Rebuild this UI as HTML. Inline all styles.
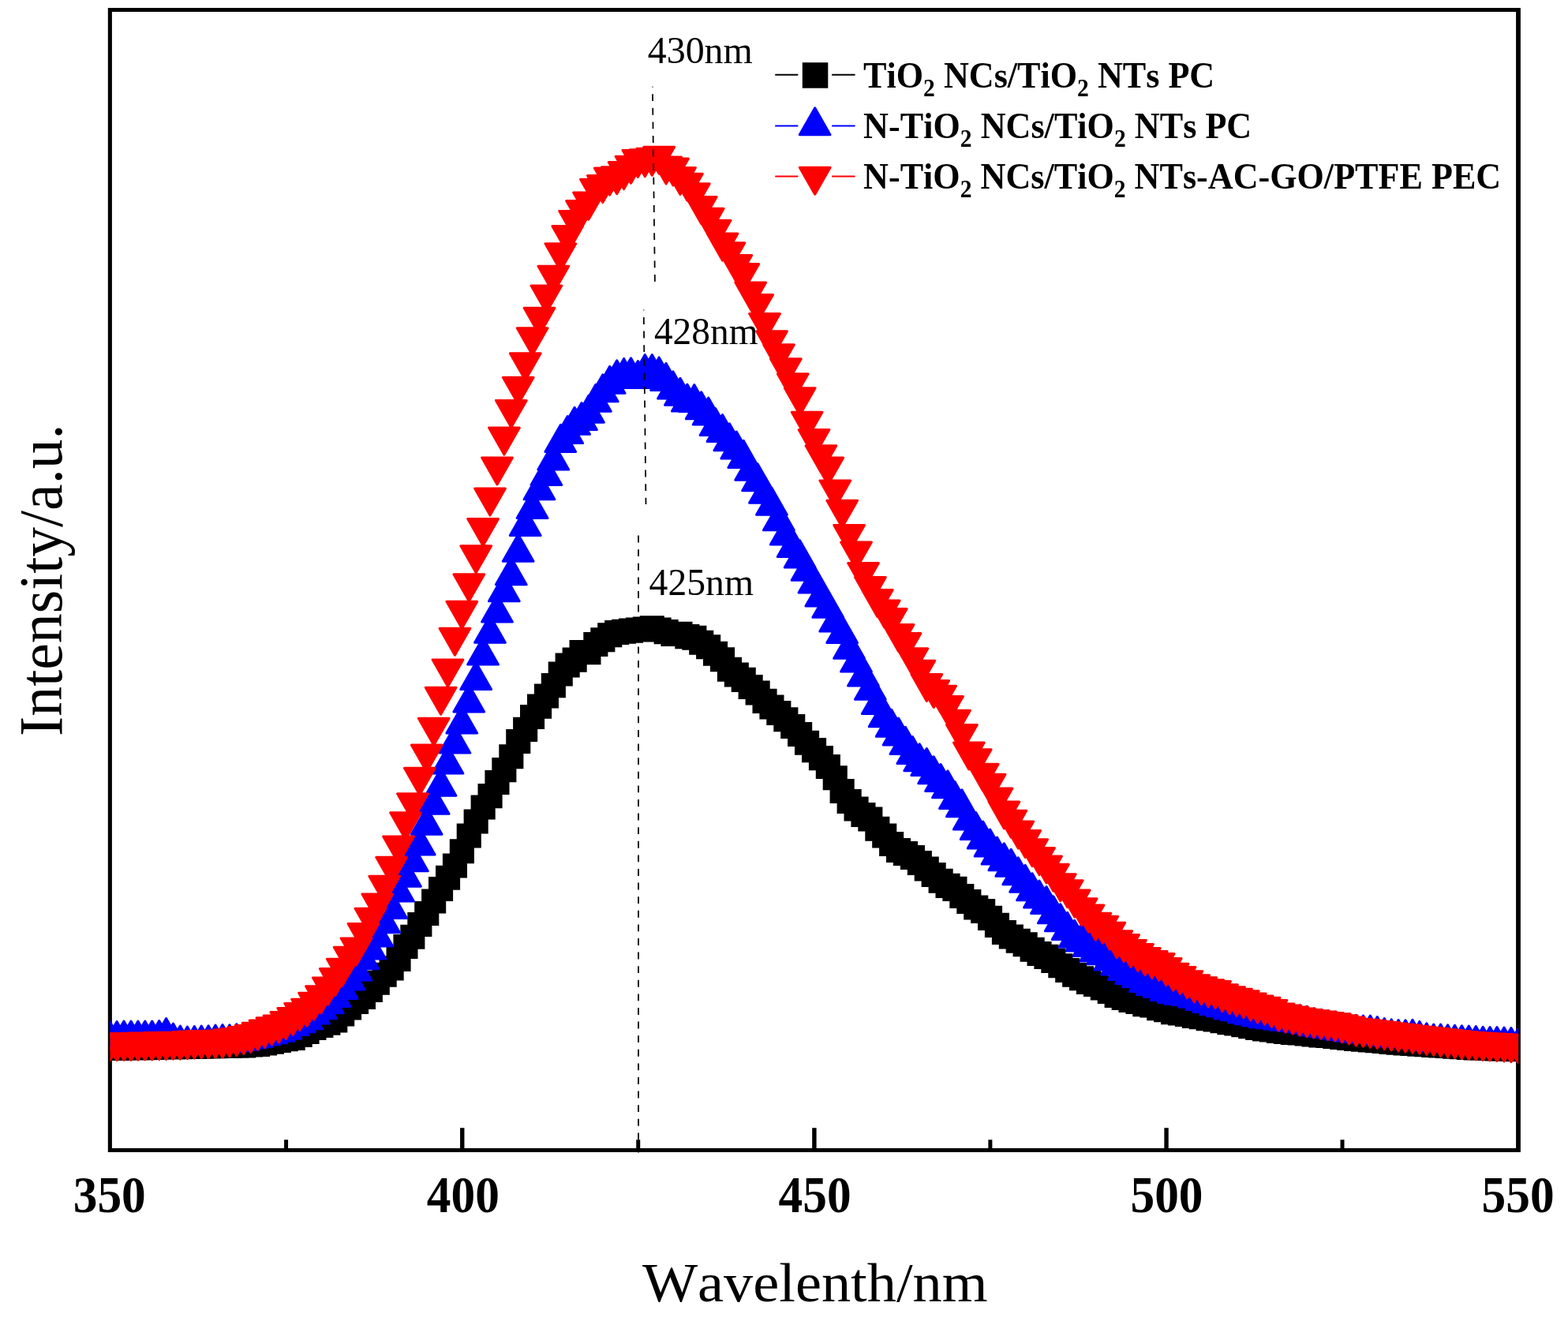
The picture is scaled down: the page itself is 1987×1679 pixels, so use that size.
<!DOCTYPE html>
<html lang="en">
<head>
<meta charset="utf-8">
<title>PL spectra</title>
<style>
html,body{margin:0;padding:0;background:#fff;}
body{width:1987px;height:1679px;overflow:hidden;}
svg{display:block;}
text{font-family:"Liberation Serif","DejaVu Serif",serif;fill:#000;font-kerning:none;white-space:pre;}
.b{font-weight:bold;}
</style>
</head>
<body>
<svg width="1987" height="1679" viewBox="0 0 1987 1679">
<rect width="1987" height="1679" fill="#fff"/>
<defs><clipPath id="pc"><rect x="139.5" y="12.5" width="1784.6" height="1445"/></clipPath></defs>
<path fill="#000" fill-rule="evenodd" d="M136.8 10H1926.9V1459.9H136.8ZM141.9 15.1V1455H1921.1V15.1Z"/>
<g clip-path="url(#pc)">
<path fill="#000" d="M123.6 1313h31.1v31.1h-31.1zM132.6 1312.9h31.1v31.1h-31.1zM141.5 1312.7h31.1v31.1h-31.1zM150.4 1312.5h31.1v31.1h-31.1zM159.3 1312.3h31.1v31.1h-31.1zM168.3 1312.1h31.1v31.1h-31.1zM177.2 1311.9h31.1v31.1h-31.1zM186.1 1311.7h31.1v31.1h-31.1zM195 1311.5h31.1v31.1h-31.1zM204 1311.3h31.1v31.1h-31.1zM212.9 1311.2h31.1v31.1h-31.1zM221.8 1311h31.1v31.1h-31.1zM230.7 1310.8h31.1v31.1h-31.1zM239.6 1310.6h31.1v31.1h-31.1zM248.6 1310.4h31.1v31.1h-31.1zM257.5 1310.2h31.1v31.1h-31.1zM266.4 1310h31.1v31.1h-31.1zM275.3 1309.8h31.1v31.1h-31.1zM284.3 1309.6h31.1v31.1h-31.1zM293.2 1309.5h31.1v31.1h-31.1zM302.1 1308.5h31.1v31.1h-31.1zM311 1308h31.1v31.1h-31.1zM320 1306.4h31.1v31.1h-31.1zM328.9 1304.7h31.1v31.1h-31.1zM337.8 1303h31.1v31.1h-31.1zM346.7 1301.2h31.1v31.1h-31.1zM355.6 1299.8h31.1v31.1h-31.1zM364.6 1295.9h31.1v31.1h-31.1zM373.5 1291.8h31.1v31.1h-31.1zM382.4 1286.9h31.1v31.1h-31.1zM391.3 1284h31.1v31.1h-31.1zM400.3 1280.7h31.1v31.1h-31.1zM409.2 1277.4h31.1v31.1h-31.1zM418.1 1269.4h31.1v31.1h-31.1zM427 1261.4h31.1v31.1h-31.1zM436 1254h31.1v31.1h-31.1zM444.9 1247.8h31.1v31.1h-31.1zM453.8 1238.8h31.1v31.1h-31.1zM462.7 1229.7h31.1v31.1h-31.1zM471.6 1219.7h31.1v31.1h-31.1zM480.6 1211.5h31.1v31.1h-31.1zM489.5 1200h31.1v31.1h-31.1zM498.4 1184h31.1v31.1h-31.1zM507.3 1171.7h31.1v31.1h-31.1zM516.3 1155.9h31.1v31.1h-31.1zM525.2 1142h31.1v31.1h-31.1zM534.1 1126.4h31.1v31.1h-31.1zM543 1111h31.1v31.1h-31.1zM552 1096.7h31.1v31.1h-31.1zM560.9 1081.5h31.1v31.1h-31.1zM569.8 1063.2h31.1v31.1h-31.1zM578.7 1043.4h31.1v31.1h-31.1zM587.6 1025.5h31.1v31.1h-31.1zM596.6 1007.4h31.1v31.1h-31.1zM605.5 993.1h31.1v31.1h-31.1zM614.4 975.9h31.1v31.1h-31.1zM623.3 960.1h31.1v31.1h-31.1zM632.3 943.2h31.1v31.1h-31.1zM641.2 923.9h31.1v31.1h-31.1zM650.1 908.8h31.1v31.1h-31.1zM659 892.9h31.1v31.1h-31.1zM668 879.6h31.1v31.1h-31.1zM676.9 866.5h31.1v31.1h-31.1zM685.8 853.1h31.1v31.1h-31.1zM694.7 838.4h31.1v31.1h-31.1zM703.6 827.4h31.1v31.1h-31.1zM712.6 820.6h31.1v31.1h-31.1zM721.5 811.1h31.1v31.1h-31.1zM730.4 811.1h31.1v31.1h-31.1zM739.3 801h31.1v31.1h-31.1zM748.3 795.2h31.1v31.1h-31.1zM757.2 789.2h31.1v31.1h-31.1zM766.1 785.9h31.1v31.1h-31.1zM775 784.7h31.1v31.1h-31.1zM784 783.6h31.1v31.1h-31.1zM792.9 782.4h31.1v31.1h-31.1zM801.8 781.6h31.1v31.1h-31.1zM810.7 780.2h31.1v31.1h-31.1zM819.6 782.5h31.1v31.1h-31.1zM828.6 785.1h31.1v31.1h-31.1zM837.5 787.9h31.1v31.1h-31.1zM846.4 787.8h31.1v31.1h-31.1zM855.3 791.1h31.1v31.1h-31.1zM864.3 792.7h31.1v31.1h-31.1zM873.2 798.7h31.1v31.1h-31.1zM882.1 804.2h31.1v31.1h-31.1zM891 812.7h31.1v31.1h-31.1zM900 820.2h31.1v31.1h-31.1zM908.9 832.7h31.1v31.1h-31.1zM917.8 839.5h31.1v31.1h-31.1zM926.7 845.8h31.1v31.1h-31.1zM935.6 855h31.1v31.1h-31.1zM944.6 862.5h31.1v31.1h-31.1zM953.5 872.8h31.1v31.1h-31.1zM962.4 880.5h31.1v31.1h-31.1zM971.3 888h31.1v31.1h-31.1zM980.3 896.2h31.1v31.1h-31.1zM989.2 904.9h31.1v31.1h-31.1zM998.1 914.9h31.1v31.1h-31.1zM1007 925.7h31.1v31.1h-31.1zM1016 935.1h31.1v31.1h-31.1zM1024.9 945.1h31.1v31.1h-31.1zM1033.8 955.9h31.1v31.1h-31.1zM1042.7 970.2h31.1v31.1h-31.1zM1051.6 986.9h31.1v31.1h-31.1zM1060.6 1000h31.1v31.1h-31.1zM1069.5 1009.5h31.1v31.1h-31.1zM1078.4 1017h31.1v31.1h-31.1zM1087.3 1022.5h31.1v31.1h-31.1zM1096.3 1034.7h31.1v31.1h-31.1zM1105.2 1043.5h31.1v31.1h-31.1zM1114.1 1054h31.1v31.1h-31.1zM1123 1062h31.1v31.1h-31.1zM1131.9 1065.9h31.1v31.1h-31.1zM1140.9 1070.9h31.1v31.1h-31.1zM1149.8 1078h31.1v31.1h-31.1zM1158.7 1085.5h31.1v31.1h-31.1zM1167.6 1093h31.1v31.1h-31.1zM1176.6 1100.7h31.1v31.1h-31.1zM1185.5 1106.8h31.1v31.1h-31.1zM1194.4 1110.8h31.1v31.1h-31.1zM1203.3 1120h31.1v31.1h-31.1zM1212.3 1127h31.1v31.1h-31.1zM1221.2 1134.4h31.1v31.1h-31.1zM1230.1 1139h31.1v31.1h-31.1zM1239 1147.8h31.1v31.1h-31.1zM1247.9 1156.8h31.1v31.1h-31.1zM1256.9 1166h31.1v31.1h-31.1zM1265.8 1171.5h31.1v31.1h-31.1zM1274.7 1176.7h31.1v31.1h-31.1zM1283.6 1181.2h31.1v31.1h-31.1zM1292.6 1187.7h31.1v31.1h-31.1zM1301.5 1193h31.1v31.1h-31.1zM1310.4 1196.8h31.1v31.1h-31.1zM1319.3 1202h31.1v31.1h-31.1zM1328.3 1208.2h31.1v31.1h-31.1zM1337.2 1214h31.1v31.1h-31.1zM1346.1 1219.7h31.1v31.1h-31.1zM1355 1224.2h31.1v31.1h-31.1zM1363.9 1229h31.1v31.1h-31.1zM1372.9 1231.8h31.1v31.1h-31.1zM1381.8 1236.4h31.1v31.1h-31.1zM1390.7 1240.9h31.1v31.1h-31.1zM1399.6 1246h31.1v31.1h-31.1zM1408.6 1249h31.1v31.1h-31.1zM1417.5 1252h31.1v31.1h-31.1zM1426.4 1254h31.1v31.1h-31.1zM1435.3 1257.2h31.1v31.1h-31.1zM1444.3 1258.5h31.1v31.1h-31.1zM1453.2 1262.2h31.1v31.1h-31.1zM1462.1 1264.2h31.1v31.1h-31.1zM1471 1267.2h31.1v31.1h-31.1zM1479.9 1268.5h31.1v31.1h-31.1zM1488.9 1269.8h31.1v31.1h-31.1zM1497.8 1271.9h31.1v31.1h-31.1zM1506.7 1273.2h31.1v31.1h-31.1zM1515.6 1275.2h31.1v31.1h-31.1zM1524.6 1276.5h31.1v31.1h-31.1zM1533.5 1278.2h31.1v31.1h-31.1zM1542.4 1280.2h31.1v31.1h-31.1zM1551.3 1281.5h31.1v31.1h-31.1zM1560.3 1283.2h31.1v31.1h-31.1zM1569.2 1285.2h31.1v31.1h-31.1zM1578.1 1287h31.1v31.1h-31.1zM1587 1288.4h31.1v31.1h-31.1zM1595.9 1289.5h31.1v31.1h-31.1zM1604.9 1291h31.1v31.1h-31.1zM1613.8 1292h31.1v31.1h-31.1zM1622.7 1293h31.1v31.1h-31.1zM1631.6 1293.4h31.1v31.1h-31.1zM1640.6 1294.5h31.1v31.1h-31.1zM1649.5 1295.4h31.1v31.1h-31.1zM1658.4 1296.4h31.1v31.1h-31.1zM1667.3 1297h31.1v31.1h-31.1zM1676.3 1298h31.1v31.1h-31.1zM1685.2 1299h31.1v31.1h-31.1zM1694.1 1300h31.1v31.1h-31.1zM1703 1300.8h31.1v31.1h-31.1zM1711.9 1301.6h31.1v31.1h-31.1zM1720.9 1302.4h31.1v31.1h-31.1zM1729.8 1303.2h31.1v31.1h-31.1zM1738.7 1304h31.1v31.1h-31.1zM1747.6 1304.8h31.1v31.1h-31.1zM1756.6 1305.6h31.1v31.1h-31.1zM1765.5 1306.5h31.1v31.1h-31.1zM1774.4 1307h31.1v31.1h-31.1zM1783.3 1307.6h31.1v31.1h-31.1zM1792.3 1308.2h31.1v31.1h-31.1zM1801.2 1308.8h31.1v31.1h-31.1zM1810.1 1309.4h31.1v31.1h-31.1zM1819 1310h31.1v31.1h-31.1zM1827.9 1310.6h31.1v31.1h-31.1zM1836.9 1311.2h31.1v31.1h-31.1zM1845.8 1311.8h31.1v31.1h-31.1zM1854.7 1312.4h31.1v31.1h-31.1zM1863.6 1312.7h31.1v31.1h-31.1zM1872.6 1313h31.1v31.1h-31.1zM1881.5 1313.3h31.1v31.1h-31.1zM1890.4 1313.6h31.1v31.1h-31.1zM1899.3 1313.9h31.1v31.1h-31.1zM1908.2 1314.2h31.1v31.1h-31.1z"/>
<path fill="#0000ff" stroke="#0000ff" stroke-width="3" stroke-linejoin="round" d="M139.2 1294.6l19.3 34h-38.7zM148.1 1294.6l19.3 34h-38.7zM157 1294l19.3 34h-38.7zM166 1294l19.3 34h-38.7zM174.9 1294l19.3 34h-38.7zM183.8 1294l19.3 34h-38.7zM192.7 1294l19.3 34h-38.7zM201.7 1293.6l19.3 34h-38.7zM210.6 1290.6l19.3 34h-38.7zM219.5 1297.1l19.3 34h-38.7zM228.4 1300.1l19.3 34h-38.7zM237.4 1301.1l19.3 34h-38.7zM246.3 1300.5l19.3 34h-38.7zM255.2 1300.1l19.3 34h-38.7zM264.1 1299.7l19.3 34h-38.7zM273 1299.1l19.3 34h-38.7zM282 1298.5l19.3 34h-38.7zM290.9 1298.7l19.3 34h-38.7zM299.8 1297.7l19.3 34h-38.7zM308.7 1296.3l19.3 34h-38.7zM317.7 1293.9l19.3 34h-38.7zM326.6 1292.3l19.3 34h-38.7zM335.5 1289.8l19.3 34h-38.7zM344.4 1287.7l19.3 34h-38.7zM353.4 1285.2l19.3 34h-38.7zM362.3 1282.3l19.3 34h-38.7zM371.2 1277.5l19.3 34h-38.7zM380.1 1273.8l19.3 34h-38.7zM389 1269.8l19.3 34h-38.7zM398 1262.9l19.3 34h-38.7zM406.9 1256.5l19.3 34h-38.7zM415.8 1249.7l19.3 34h-38.7zM424.7 1241.5l19.3 34h-38.7zM433.7 1231.4l19.3 34h-38.7zM442.6 1220l19.3 34h-38.7zM451.5 1208.3l19.3 34h-38.7zM460.4 1193.8l19.3 34h-38.7zM469.4 1180.9l19.3 34h-38.7zM478.3 1165l19.3 34h-38.7zM487.2 1147.8l19.3 34h-38.7zM496.1 1129.4l19.3 34h-38.7zM505 1108l19.3 34h-38.7zM514 1089.2l19.3 34h-38.7zM522.9 1069.8l19.3 34h-38.7zM531.8 1048.9l19.3 34h-38.7zM540.7 1023.2l19.3 34h-38.7zM549.7 997.3l19.3 34h-38.7zM558.6 974.2l19.3 34h-38.7zM567.5 946l19.3 34h-38.7zM576.4 920.1l19.3 34h-38.7zM585.3 894.9l19.3 34h-38.7zM594.3 868l19.3 34h-38.7zM603.2 839.5l19.3 34h-38.7zM612.1 808.1l19.3 34h-38.7zM621 780.3l19.3 34h-38.7zM630 754.1l19.3 34h-38.7zM638.9 727.7l19.3 34h-38.7zM647.8 706.8l19.3 34h-38.7zM656.7 677.3l19.3 34h-38.7zM665.7 644.6l19.3 34h-38.7zM674.6 622.5l19.3 34h-38.7zM683.5 598.8l19.3 34h-38.7zM692.4 580.5l19.3 34h-38.7zM701.3 561.1l19.3 34h-38.7zM710.3 538.4l19.3 34h-38.7zM719.2 527.6l19.3 34h-38.7zM728.1 516.3l19.3 34h-38.7zM737 510.5l19.3 34h-38.7zM746 501.2l19.3 34h-38.7zM754.9 487.3l19.3 34h-38.7zM763.8 474.8l19.3 34h-38.7zM772.7 464.3l19.3 34h-38.7zM781.7 456.8l19.3 34h-38.7zM790.6 454.4l19.3 34h-38.7zM799.5 453.8l19.3 34h-38.7zM808.4 457.6l19.3 34h-38.7zM817.3 449.6l19.3 34h-38.7zM826.3 449.6l19.3 34h-38.7zM835.2 452.9l19.3 34h-38.7zM844.1 460.4l19.3 34h-38.7zM853 470.9l19.3 34h-38.7zM862 479.2l19.3 34h-38.7zM870.9 487l19.3 34h-38.7zM879.8 487.6l19.3 34h-38.7zM888.7 496.7l19.3 34h-38.7zM897.7 504l19.3 34h-38.7zM906.6 517.5l19.3 34h-38.7zM915.5 525.6l19.3 34h-38.7zM924.4 536.8l19.3 34h-38.7zM933.3 547l19.3 34h-38.7zM942.3 558.4l19.3 34h-38.7zM951.2 574.2l19.3 34h-38.7zM960.1 587.8l19.3 34h-38.7zM969 603.3l19.3 34h-38.7zM978 618.3l19.3 34h-38.7zM986.9 637.8l19.3 34h-38.7zM995.8 655.9l19.3 34h-38.7zM1004.7 671.5l19.3 34h-38.7zM1013.7 684.9l19.3 34h-38.7zM1022.6 701.2l19.3 34h-38.7zM1031.5 717.1l19.3 34h-38.7zM1040.4 733.9l19.3 34h-38.7zM1049.3 748.3l19.3 34h-38.7zM1058.3 765.9l19.3 34h-38.7zM1067.2 780.5l19.3 34h-38.7zM1076.1 800.2l19.3 34h-38.7zM1085 817l19.3 34h-38.7zM1094 835.1l19.3 34h-38.7zM1102.9 852.2l19.3 34h-38.7zM1111.8 870.4l19.3 34h-38.7zM1120.7 886.7l19.3 34h-38.7zM1129.7 899.3l19.3 34h-38.7zM1138.6 910.1l19.3 34h-38.7zM1147.5 921.4l19.3 34h-38.7zM1156.4 933.5l19.3 34h-38.7zM1165.3 942.8l19.3 34h-38.7zM1174.3 948.6l19.3 34h-38.7zM1183.2 958.7l19.3 34h-38.7zM1192.1 968.5l19.3 34h-38.7zM1201 976.8l19.3 34h-38.7zM1210 990.6l19.3 34h-38.7zM1218.9 1000.7l19.3 34h-38.7zM1227.8 1017.1l19.3 34h-38.7zM1236.7 1029.6l19.3 34h-38.7zM1245.7 1041l19.3 34h-38.7zM1254.6 1051l19.3 34h-38.7zM1263.5 1061.1l19.3 34h-38.7zM1272.4 1068.7l19.3 34h-38.7zM1281.3 1076.2l19.3 34h-38.7zM1290.3 1086.8l19.3 34h-38.7zM1299.2 1096.3l19.3 34h-38.7zM1308.1 1106.7l19.3 34h-38.7zM1317 1116l19.3 34h-38.7zM1326 1123.5l19.3 34h-38.7zM1334.9 1135.7l19.3 34h-38.7zM1343.8 1145.7l19.3 34h-38.7zM1352.7 1156.4l19.3 34h-38.7zM1361.7 1166.2l19.3 34h-38.7zM1370.6 1171.1l19.3 34h-38.7zM1379.5 1177.4l19.3 34h-38.7zM1388.4 1183.8l19.3 34h-38.7zM1397.3 1187.8l19.3 34h-38.7zM1406.3 1195.1l19.3 34h-38.7zM1415.2 1201.1l19.3 34h-38.7zM1424.1 1207.4l19.3 34h-38.7zM1433 1212.4l19.3 34h-38.7zM1442 1216.4l19.3 34h-38.7zM1450.9 1222.5l19.3 34h-38.7zM1459.8 1226.5l19.3 34h-38.7zM1468.7 1229.5l19.3 34h-38.7zM1477.7 1233.5l19.3 34h-38.7zM1486.6 1236.5l19.3 34h-38.7zM1495.5 1238.2l19.3 34h-38.7zM1504.4 1239.6l19.3 34h-38.7zM1513.3 1242.2l19.3 34h-38.7zM1522.3 1245.6l19.3 34h-38.7zM1531.2 1248.6l19.3 34h-38.7zM1540.1 1251.6l19.3 34h-38.7zM1549 1253.7l19.3 34h-38.7zM1558 1256.7l19.3 34h-38.7zM1566.9 1258.7l19.3 34h-38.7zM1575.8 1261.7l19.3 34h-38.7zM1584.7 1263.7l19.3 34h-38.7zM1593.6 1265.7l19.3 34h-38.7zM1602.6 1267.7l19.3 34h-38.7zM1611.5 1268.8l19.3 34h-38.7zM1620.4 1270.1l19.3 34h-38.7zM1629.3 1271.3l19.3 34h-38.7zM1638.3 1272.6l19.3 34h-38.7zM1647.2 1273.8l19.3 34h-38.7zM1656.1 1275.3l19.3 34h-38.7zM1665 1277.7l19.3 34h-38.7zM1674 1279.2l19.3 34h-38.7zM1682.9 1280.6l19.3 34h-38.7zM1691.8 1282l19.3 34h-38.7zM1700.7 1283.5l19.3 34h-38.7zM1709.6 1284.9l19.3 34h-38.7zM1718.6 1286.3l19.3 34h-38.7zM1727.5 1287l19.3 34h-38.7zM1736.4 1287l19.3 34h-38.7zM1745.3 1288.6l19.3 34h-38.7zM1754.3 1290.5l19.3 34h-38.7zM1763.2 1291.9l19.3 34h-38.7zM1772.1 1292.5l19.3 34h-38.7zM1781 1292.8l19.3 34h-38.7zM1790 1292.3l19.3 34h-38.7zM1798.9 1294.4l19.3 34h-38.7zM1807.8 1296.7l19.3 34h-38.7zM1816.7 1298.1l19.3 34h-38.7zM1825.6 1298.1l19.3 34h-38.7zM1834.6 1298.7l19.3 34h-38.7zM1843.5 1299.3l19.3 34h-38.7zM1852.4 1299.7l19.3 34h-38.7zM1861.3 1300.1l19.3 34h-38.7zM1870.3 1300.6l19.3 34h-38.7zM1879.2 1301.2l19.3 34h-38.7zM1888.1 1301.6l19.3 34h-38.7zM1897 1301.6l19.3 34h-38.7zM1906 1302l19.3 34h-38.7zM1914.9 1302.6l19.3 34h-38.7zM1923.8 1303.6l19.3 34h-38.7z"/>
<path fill="#ff0000" stroke="#ff0000" stroke-width="3" stroke-linejoin="round" d="M139.2 1343.9l-19.3 -34h38.7zM148.1 1343.7l-19.3 -34h38.7zM157 1343.5l-19.3 -34h38.7zM166 1343.4l-19.3 -34h38.7zM174.9 1343.2l-19.3 -34h38.7zM183.8 1343l-19.3 -34h38.7zM192.7 1342.9l-19.3 -34h38.7zM201.7 1342.6l-19.3 -34h38.7zM210.6 1342.5l-19.3 -34h38.7zM219.5 1342.3l-19.3 -34h38.7zM228.4 1342.2l-19.3 -34h38.7zM237.4 1341.6l-19.3 -34h38.7zM246.3 1341.1l-19.3 -34h38.7zM255.2 1340.6l-19.3 -34h38.7zM264.1 1340.5l-19.3 -34h38.7zM273 1340.3l-19.3 -34h38.7zM282 1340l-19.3 -34h38.7zM290.9 1338.8l-19.3 -34h38.7zM299.8 1337.5l-19.3 -34h38.7zM308.7 1335.6l-19.3 -34h38.7zM317.7 1333.4l-19.3 -34h38.7zM326.6 1330.3l-19.3 -34h38.7zM335.5 1327.1l-19.3 -34h38.7zM344.4 1323.8l-19.3 -34h38.7zM353.4 1321l-19.3 -34h38.7zM362.3 1316.5l-19.3 -34h38.7zM371.2 1311.5l-19.3 -34h38.7zM380.1 1305.5l-19.3 -34h38.7zM389 1300.3l-19.3 -34h38.7zM398 1292.3l-19.3 -34h38.7zM406.9 1283.7l-19.3 -34h38.7zM415.8 1272.9l-19.3 -34h38.7zM424.7 1261.6l-19.3 -34h38.7zM433.7 1249.2l-19.3 -34h38.7zM442.6 1234.2l-19.3 -34h38.7zM451.5 1222.9l-19.3 -34h38.7zM460.4 1204.6l-19.3 -34h38.7zM469.4 1185.2l-19.3 -34h38.7zM478.3 1166.9l-19.3 -34h38.7zM487.2 1144.2l-19.3 -34h38.7zM496.1 1120.3l-19.3 -34h38.7zM505 1093.9l-19.3 -34h38.7zM514 1063.7l-19.3 -34h38.7zM522.9 1039.8l-19.3 -34h38.7zM531.8 1007.3l-19.3 -34h38.7zM540.7 978.1l-19.3 -34h38.7zM549.7 944.2l-19.3 -34h38.7zM558.6 905.2l-19.3 -34h38.7zM567.5 869.9l-19.3 -34h38.7zM576.4 830.3l-19.3 -34h38.7zM585.3 796.3l-19.3 -34h38.7zM594.3 761.8l-19.3 -34h38.7zM603.2 725.8l-19.3 -34h38.7zM612.1 691.4l-19.3 -34h38.7zM621 653.1l-19.3 -34h38.7zM630 613.9l-19.3 -34h38.7zM638.9 576.1l-19.3 -34h38.7zM647.8 541.4l-19.3 -34h38.7zM656.7 512.2l-19.3 -34h38.7zM665.7 481.8l-19.3 -34h38.7zM674.6 449.7l-19.3 -34h38.7zM683.5 424.3l-19.3 -34h38.7zM692.4 396l-19.3 -34h38.7zM701.3 371.3l-19.3 -34h38.7zM710.3 342.7l-19.3 -34h38.7zM719.2 320.6l-19.3 -34h38.7zM728.1 301.4l-19.3 -34h38.7zM737 288.6l-19.3 -34h38.7zM746 278.1l-19.3 -34h38.7zM754.9 261.3l-19.3 -34h38.7zM763.8 256.6l-19.3 -34h38.7zM772.7 247.1l-19.3 -34h38.7zM781.7 245.7l-19.3 -34h38.7zM790.6 239.6l-19.3 -34h38.7zM799.5 232.3l-19.3 -34h38.7zM808.4 224.4l-19.3 -34h38.7zM817.3 223.8l-19.3 -34h38.7zM826.3 222.2l-19.3 -34h38.7zM835.2 220.2l-19.3 -34h38.7zM844.1 232.9l-19.3 -34h38.7zM853 235l-19.3 -34h38.7zM862 246.5l-19.3 -34h38.7zM870.9 254.2l-19.3 -34h38.7zM879.8 266.7l-19.3 -34h38.7zM888.7 283.6l-19.3 -34h38.7zM897.7 298.3l-19.3 -34h38.7zM906.6 313.3l-19.3 -34h38.7zM915.5 330.1l-19.3 -34h38.7zM924.4 341.7l-19.3 -34h38.7zM933.3 357.5l-19.3 -34h38.7zM942.3 368.6l-19.3 -34h38.7zM951.2 391.9l-19.3 -34h38.7zM960.1 407.5l-19.3 -34h38.7zM969 431.4l-19.3 -34h38.7zM978 453.7l-19.3 -34h38.7zM986.9 470.7l-19.3 -34h38.7zM995.8 488.8l-19.3 -34h38.7zM1004.7 507.7l-19.3 -34h38.7zM1013.7 525.8l-19.3 -34h38.7zM1022.6 556.2l-19.3 -34h38.7zM1031.5 578.6l-19.3 -34h38.7zM1040.4 598.8l-19.3 -34h38.7zM1049.3 613.9l-19.3 -34h38.7zM1058.3 643.1l-19.3 -34h38.7zM1067.2 668.2l-19.3 -34h38.7zM1076.1 699.4l-19.3 -34h38.7zM1085 721.1l-19.3 -34h38.7zM1094 747.5l-19.3 -34h38.7zM1102.9 765.6l-19.3 -34h38.7zM1111.8 781.5l-19.3 -34h38.7zM1120.7 795l-19.3 -34h38.7zM1129.7 805.4l-19.3 -34h38.7zM1138.6 825.4l-19.3 -34h38.7zM1147.5 836.6l-19.3 -34h38.7zM1156.4 855.7l-19.3 -34h38.7zM1165.3 871.3l-19.3 -34h38.7zM1174.3 888.4l-19.3 -34h38.7zM1183.2 896.5l-19.3 -34h38.7zM1192.1 903.3l-19.3 -34h38.7zM1201 916.6l-19.3 -34h38.7zM1210 934.2l-19.3 -34h38.7zM1218.9 952.6l-19.3 -34h38.7zM1227.8 975l-19.3 -34h38.7zM1236.7 983.8l-19.3 -34h38.7zM1245.7 1002.2l-19.3 -34h38.7zM1254.6 1015.3l-19.3 -34h38.7zM1263.5 1033.1l-19.3 -34h38.7zM1272.4 1050l-19.3 -34h38.7zM1281.3 1061.3l-19.3 -34h38.7zM1290.3 1075.1l-19.3 -34h38.7zM1299.2 1086.5l-19.3 -34h38.7zM1308.1 1097.8l-19.3 -34h38.7zM1317 1108.6l-19.3 -34h38.7zM1326 1119l-19.3 -34h38.7zM1334.9 1129.2l-19.3 -34h38.7zM1343.8 1141.7l-19.3 -34h38.7zM1352.7 1149.7l-19.3 -34h38.7zM1361.7 1162l-19.3 -34h38.7zM1370.6 1172.7l-19.3 -34h38.7zM1379.5 1181.1l-19.3 -34h38.7zM1388.4 1191.2l-19.3 -34h38.7zM1397.3 1195.2l-19.3 -34h38.7zM1406.3 1203.3l-19.3 -34h38.7zM1415.2 1213.7l-19.3 -34h38.7zM1424.1 1218.4l-19.3 -34h38.7zM1433 1225.4l-19.3 -34h38.7zM1442 1230.5l-19.3 -34h38.7zM1450.9 1235.5l-19.3 -34h38.7zM1459.8 1239.5l-19.3 -34h38.7zM1468.7 1242.5l-19.3 -34h38.7zM1477.7 1248.6l-19.3 -34h38.7zM1486.6 1255.2l-19.3 -34h38.7zM1495.5 1259.6l-19.3 -34h38.7zM1504.4 1264.7l-19.3 -34h38.7zM1513.3 1269.7l-19.3 -34h38.7zM1522.3 1272.7l-19.3 -34h38.7zM1531.2 1275.7l-19.3 -34h38.7zM1540.1 1277.4l-19.3 -34h38.7zM1549 1281.8l-19.3 -34h38.7zM1558 1284.8l-19.3 -34h38.7zM1566.9 1287.2l-19.3 -34h38.7zM1575.8 1289.8l-19.3 -34h38.7zM1584.7 1292.9l-19.3 -34h38.7zM1593.6 1295.9l-19.3 -34h38.7zM1602.6 1298.3l-19.3 -34h38.7zM1611.5 1301.5l-19.3 -34h38.7zM1620.4 1305.9l-19.3 -34h38.7zM1629.3 1308l-19.3 -34h38.7zM1638.3 1310l-19.3 -34h38.7zM1647.2 1312l-19.3 -34h38.7zM1656.1 1313.4l-19.3 -34h38.7zM1665 1314.7l-19.3 -34h38.7zM1674 1316.1l-19.3 -34h38.7zM1682.9 1317.4l-19.3 -34h38.7zM1691.8 1318.8l-19.3 -34h38.7zM1700.7 1320.8l-19.3 -34h38.7zM1709.6 1322.9l-19.3 -34h38.7zM1718.6 1325.3l-19.3 -34h38.7zM1727.5 1326.2l-19.3 -34h38.7zM1736.4 1327.3l-19.3 -34h38.7zM1745.3 1328.4l-19.3 -34h38.7zM1754.3 1329.6l-19.3 -34h38.7zM1763.2 1330.9l-19.3 -34h38.7zM1772.1 1332.1l-19.3 -34h38.7zM1781 1333.1l-19.3 -34h38.7zM1790 1334.2l-19.3 -34h38.7zM1798.9 1335.2l-19.3 -34h38.7zM1807.8 1336.3l-19.3 -34h38.7zM1816.7 1337.3l-19.3 -34h38.7zM1825.6 1338.4l-19.3 -34h38.7zM1834.6 1339.4l-19.3 -34h38.7zM1843.5 1340.5l-19.3 -34h38.7zM1852.4 1341.5l-19.3 -34h38.7zM1861.3 1342.2l-19.3 -34h38.7zM1870.3 1342.9l-19.3 -34h38.7zM1879.2 1343.6l-19.3 -34h38.7zM1888.1 1344l-19.3 -34h38.7zM1897 1344.4l-19.3 -34h38.7zM1906 1344.9l-19.3 -34h38.7zM1914.9 1345.7l-19.3 -34h38.7zM1923.8 1346.5l-19.3 -34h38.7z"/>
</g>
<g stroke="#000" stroke-width="1.75" fill="none" stroke-dasharray="8.9 8.7">
<line x1="826.9" y1="109.8" x2="829.9" y2="356.9" stroke-dashoffset="8.2"/>
<line x1="815.7" y1="392.6" x2="818.5" y2="639" stroke-dashoffset="8.2"/>
<line x1="809" y1="678.6" x2="809" y2="1460.5"/>
</g>
<path d="M583.05 1429.3h5.4V1457h-5.4zM1029.2 1429.3h5.4V1457h-5.4zM1475.35 1429.3h5.4V1457h-5.4zM360.07 1444.2h5V1457h-5zM806.23 1444.2h5V1457h-5zM1252.38 1444.2h5V1457h-5zM1698.53 1444.2h5V1457h-5z" fill="#000"/>
<text class="b" transform="translate(92.7 1535.6) scale(0.939 1)" font-size="65.4">350</text>
<text class="b" transform="translate(540.85 1535.6) scale(0.939 1)" font-size="65.4">400</text>
<text class="b" transform="translate(986.6 1535.6) scale(0.939 1)" font-size="65.4">450</text>
<text class="b" transform="translate(1432.45 1535.6) scale(0.939 1)" font-size="65.4">500</text>
<text class="b" transform="translate(1877.6 1535.6) scale(0.939 1)" font-size="65.4">550</text>
<text transform="translate(813.9 1648.5) scale(1.052 1)" font-size="70.7">Wavelenth/nm</text>
<text transform="translate(77.5 932.9) rotate(-90) scale(0.971 1)" font-size="78">Intensity/a.u.</text>
<text transform="translate(820.7 80) scale(0.9787 1)" font-size="49">430nm</text>
<text transform="translate(828.9 436.3) scale(0.968 1)" font-size="49">428nm</text>
<text transform="translate(822.6 754.2) scale(0.973 1)" font-size="49">425nm</text>
<path d="M983 94.7H1010.6M1054.9 94.7H1082.8" stroke="#000" stroke-width="2" stroke-linecap="round" fill="none"/>
<rect x="1016.8" y="79.2" width="32.5" height="32.5" fill="#000"/>
<text class="b" transform="translate(1094.1 110.6) scale(0.9635 1)" font-size="45.8">TiO<tspan font-size="30.69" dy="11.22">2</tspan><tspan dy="-11.22"> NCs/TiO</tspan><tspan font-size="30.69" dy="11.22">2</tspan><tspan dy="-11.22"> NTs PC</tspan></text>
<path d="M983 159.4H1010.6M1054.9 159.4H1082.8" stroke="#0000ff" stroke-width="2" stroke-linecap="round" fill="none"/>
<path d="M1032.7 136.7l19.3 34h-38.7z" fill="#0000ff" stroke="#0000ff" stroke-width="3" stroke-linejoin="round"/>
<text class="b" transform="translate(1094.1 175) scale(0.9645 1)" font-size="45.8">N-TiO<tspan font-size="30.69" dy="11.22">2</tspan><tspan dy="-11.22"> NCs/TiO</tspan><tspan font-size="30.69" dy="11.22">2</tspan><tspan dy="-11.22"> NTs PC</tspan></text>
<path d="M983 223.6H1010.6M1054.9 223.6H1082.8" stroke="#ff0000" stroke-width="2" stroke-linecap="round" fill="none"/>
<path d="M1032.7 246.3l-19.3 -34h38.7z" fill="#ff0000" stroke="#ff0000" stroke-width="3" stroke-linejoin="round"/>
<text class="b" transform="translate(1094.1 239.1) scale(0.964 1)" font-size="45.8">N-TiO<tspan font-size="30.69" dy="11.22">2</tspan><tspan dy="-11.22"> NCs/TiO</tspan><tspan font-size="30.69" dy="11.22">2</tspan><tspan dy="-11.22"> NTs-AC-GO/PTFE PEC</tspan></text>
</svg>
</body>
</html>
